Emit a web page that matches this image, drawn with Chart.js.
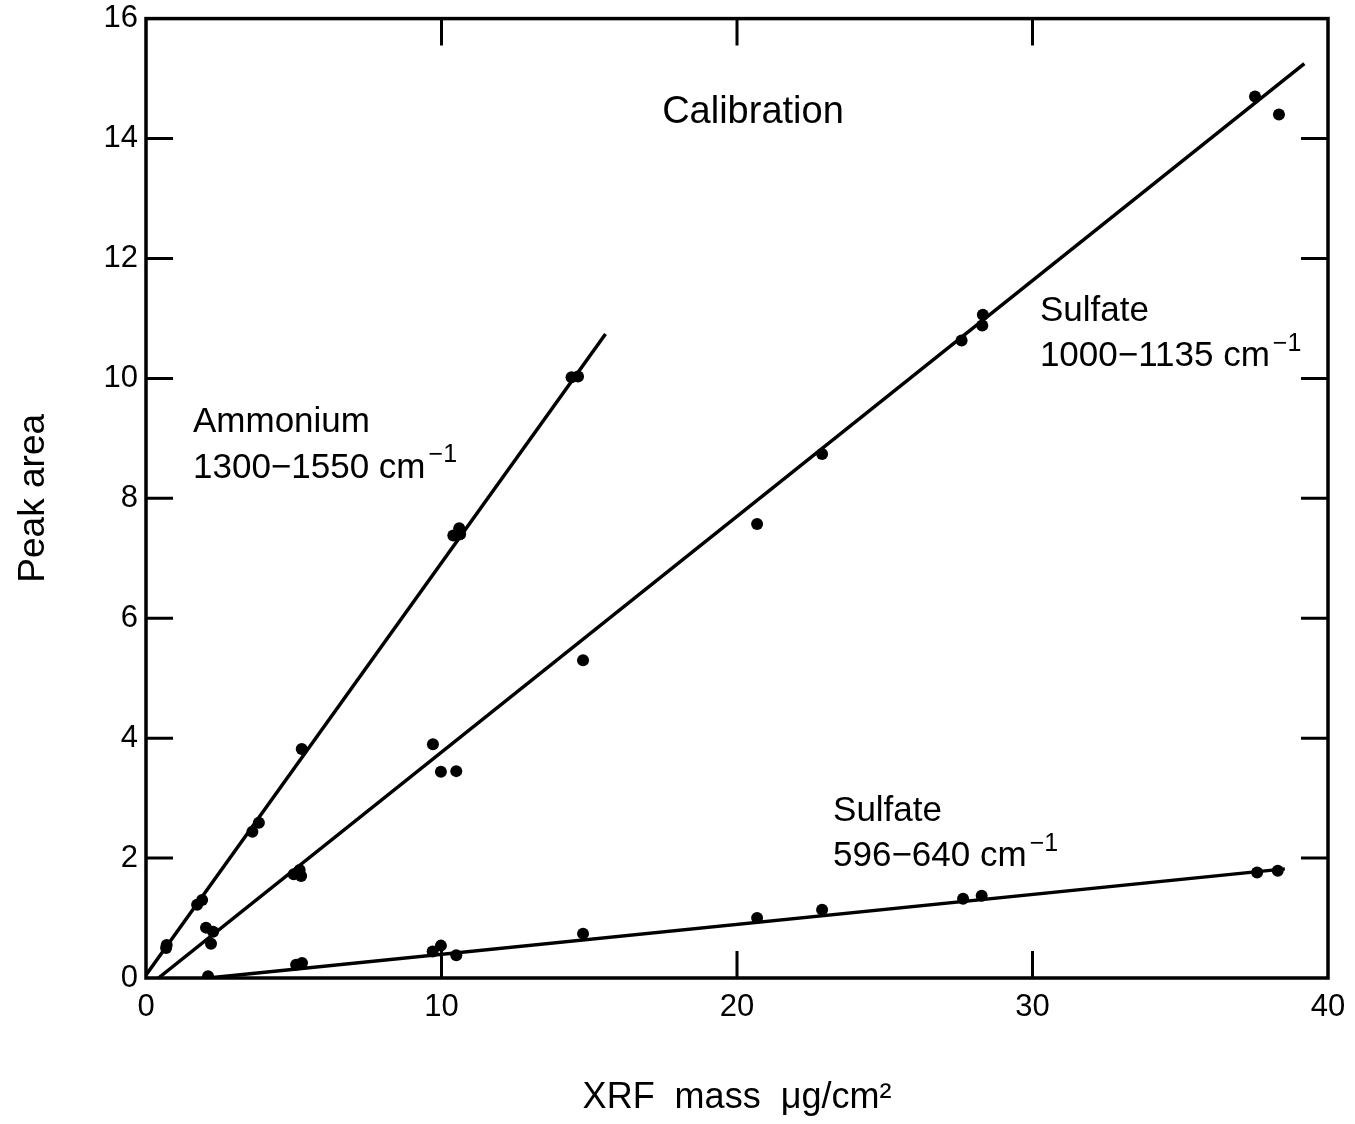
<!DOCTYPE html>
<html>
<head>
<meta charset="utf-8">
<script src="https://cdn.jsdelivr.net/npm/chart.js@4/dist/chart.umd.min.js"></script>
<style>
  html, body { margin: 0; padding: 0; background: #fff; }
  #wrap { width: 1355px; height: 1124px; }
</style>
</head>
<body>
<div id="wrap"><canvas id="c" width="1355" height="1124"></canvas></div>
<script>
// ---- data ----
const xTicks = [0, 10, 20, 30, 40];
const yTicks = [0, 2, 4, 6, 8, 10, 12, 14, 16];

const ammoniumX = [0.68, 0.70, 1.73, 1.90, 3.60, 3.82, 5.27, 10.40, 10.60, 10.63, 14.40, 14.62];
const ammoniumY = [0.50, 0.55, 1.22, 1.30, 2.44, 2.59, 3.82, 7.38, 7.50, 7.40, 10.02, 10.03];

const sulfateHiX = [2.03, 2.27, 2.20, 5.00, 5.20, 5.25, 9.71, 9.98, 10.50, 14.79, 20.68, 22.88, 27.60, 28.30, 28.32, 37.53, 38.34];
const sulfateHiY = [0.84, 0.77, 0.57, 1.73, 1.80, 1.70, 3.90, 3.44, 3.45, 5.30, 7.57, 8.74, 10.63, 10.88, 11.06, 14.70, 14.40];

const sulfateLoX = [2.10, 5.08, 5.28, 9.70, 9.98, 10.50, 14.79, 20.68, 22.88, 27.65, 28.28, 37.60, 38.30];
const sulfateLoY = [0.03, 0.22, 0.25, 0.44, 0.54, 0.38, 0.74, 1.00, 1.14, 1.32, 1.37, 1.76, 1.79];

// fitted calibration lines (end points, data units)
const ammoniumFitX = [0.0, 15.55];
const ammoniumFitY = [0.05, 10.74];
const sulfateHiFitX = [0.42, 39.2];
const sulfateHiFitY = [0.0, 15.25];
const sulfateLoFitX = [2.1, 38.54];
const sulfateLoFitY = [0.0, 1.82];

const FONT = "'Liberation Sans', Arial, Helvetica, sans-serif";

function pts(xs, ys) { return xs.map((x, i) => ({ x: x, y: ys[i] })); }

function dotSet(label, xs, ys) {
  return { type: 'scatter', label: label, data: pts(xs, ys), pointRadius: 6,
           pointBackgroundColor: '#000', pointBorderColor: '#000', pointBorderWidth: 0, showLine: false };
}
function lineSet(label, xs, ys) {
  return { type: 'line', label: label, data: pts(xs, ys), borderColor: '#000', borderWidth: 3.5,
           pointRadius: 0, fill: false, tension: 0 };
}

// annotation texts (positions in data units)
const notes = [
  { lines: [['Calibration', '']], x: 20.54, y: 14.26, size: 38, align: 'center' },
  { lines: [['Ammonium', ''], ['1300\u22121550 cm', '\u22121']], x: 1.59, y: 9.10, size: 35, align: 'left' },
  { lines: [['Sulfate', ''], ['1000\u22121135 cm', '\u22121']], x: 30.25, y: 10.96, size: 35, align: 'left' },
  { lines: [['Sulfate', ''], ['596\u2212640 cm', '\u22121']], x: 23.25, y: 2.62, size: 35, align: 'left' }
];

const framePlugin = {
  id: 'frame',
  afterDraw(chart) {
    const ctx = chart.ctx;
    const a = chart.chartArea;
    const xs = chart.scales.x, ys = chart.scales.y;
    ctx.save();
    ctx.strokeStyle = '#000';
    ctx.lineWidth = 3.5;
    ctx.strokeRect(a.left, a.top, a.right - a.left, a.bottom - a.top);
    ctx.lineWidth = 3;
    const L = 27;
    ctx.beginPath();
    xs.ticks.forEach(t => {
      if (t.value <= xs.min || t.value >= xs.max) return;
      const px = xs.getPixelForValue(t.value);
      ctx.moveTo(px, a.bottom); ctx.lineTo(px, a.bottom - L);
      ctx.moveTo(px, a.top); ctx.lineTo(px, a.top + L);
    });
    ys.ticks.forEach(t => {
      if (t.value <= ys.min || t.value >= ys.max) return;
      const py = ys.getPixelForValue(t.value);
      ctx.moveTo(a.left, py); ctx.lineTo(a.left + L, py);
      ctx.moveTo(a.right, py); ctx.lineTo(a.right - L, py);
    });
    ctx.stroke();

    // annotations
    ctx.fillStyle = '#000';
    ctx.textBaseline = 'alphabetic';
    notes.forEach(n => {
      const x0 = xs.getPixelForValue(n.x);
      let y0 = ys.getPixelForValue(n.y);
      const supSize = Math.round(n.size * 0.72);
      n.lines.forEach((ln, i) => {
        const main = ln[0], sup = ln[1];
        ctx.font = n.size + 'px ' + FONT;
        const w = ctx.measureText(main).width;
        ctx.font = supSize + 'px ' + FONT;
        const ws = sup ? ctx.measureText(sup).width : 0;
        let sx = n.align === 'center' ? x0 - (w + ws) / 2 : x0;
        const by = y0 + i * n.size * 1.3;
        ctx.font = n.size + 'px ' + FONT;
        ctx.textAlign = 'left';
        ctx.fillText(main, sx, by);
        if (sup) {
          ctx.font = supSize + 'px ' + FONT;
          ctx.fillText(sup, sx + w + 3, by - n.size * 0.45);
        }
      });
    });
    ctx.restore();
  }
};

new Chart(document.getElementById('c'), {
  data: {
    datasets: [
      lineSet('Ammonium fit', ammoniumFitX, ammoniumFitY),
      lineSet('Sulfate 1000-1135 fit', sulfateHiFitX, sulfateHiFitY),
      lineSet('Sulfate 596-640 fit', sulfateLoFitX, sulfateLoFitY),
      dotSet('Ammonium 1300-1550 cm-1', ammoniumX, ammoniumY),
      dotSet('Sulfate 1000-1135 cm-1', sulfateHiX, sulfateHiY),
      dotSet('Sulfate 596-640 cm-1', sulfateLoX, sulfateLoY)
    ]
  },
  options: {
    responsive: false,
    animation: false,
    devicePixelRatio: 1,
    layout: { padding: { left: 0, top: 6, right: 27, bottom: 0 } },
    plugins: { legend: { display: false }, tooltip: { enabled: false }, title: { display: false } },
    scales: {
      x: {
        type: 'linear', min: 0, max: 40,
        afterBuildTicks: s => { s.ticks = xTicks.map(v => ({ value: v })); },
        afterFit: s => { s.height = 146; },
        ticks: { color: '#000', font: { family: FONT, size: 31 }, padding: 3, maxRotation: 0 },
        grid: { display: false },
        border: { display: false },
        title: { display: true, text: 'XRF  mass  \u03BCg/cm\u00B2', color: '#000',
                 font: { family: FONT, size: 36 }, padding: { top: 0, bottom: 4 } }
      },
      y: {
        type: 'linear', min: 0, max: 16,
        afterBuildTicks: s => { s.ticks = yTicks.map(v => ({ value: v })); },
        afterFit: s => { s.width = 146; },
        ticks: { color: '#000', font: { family: FONT, size: 31 }, padding: 0 },
        grid: { display: false },
        border: { display: false },
        title: { display: true, text: 'Peak area', color: '#000',
                 font: { family: FONT, size: 37 }, padding: { top: 12, bottom: 0 } }
      }
    }
  },
  plugins: [framePlugin]
});
</script>
</body>
</html>
